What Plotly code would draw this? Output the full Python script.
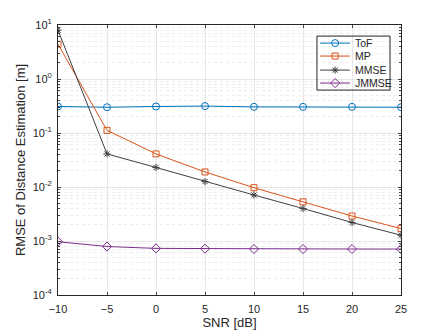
import plotly.graph_objects as go

snr = [-10, -5, 0, 5, 10, 15, 20, 25]
tof = [0.31, 0.30, 0.31, 0.315, 0.305, 0.305, 0.305, 0.30]
mp = [4.4, 0.112, 0.041, 0.019, 0.0097, 0.0053, 0.0029, 0.0017]
mmse = [8.0, 0.041, 0.023, 0.0126, 0.0071, 0.0040, 0.0022, 0.00128]
jmmse = [0.00097, 0.00079, 0.00073, 0.00072, 0.00071, 0.00071, 0.00071, 0.00071]

names = ["ToF", "MP", "MMSE", "JMMSE"]
series = [tof, mp, mmse, jmmse]
colors = ["#0072BD", "#D95319", "#404040", "#7E2F8E"]
symbols = ["circle-open", "square-open", "asterisk-open", "diamond-open"]
msizes = [7, 6, 6, 7]

ytick_vals = [1e-4, 1e-3, 1e-2, 1e-1, 1, 10]
ytick_text = ["10<sup>-4</sup>", "10<sup>-3</sup>", "10<sup>-2</sup>",
              "10<sup>-1</sup>", "10<sup>0</sup>", "10<sup>1</sup>"]

fig = go.Figure()
for name, ys, col, sym, ms in zip(names, series, colors, symbols, msizes):
    fig.add_trace(go.Scatter(x=snr, y=ys, name=name, mode="lines+markers",
                             line=dict(color=col, width=1),
                             marker=dict(symbol=sym, size=ms, color=col)))

# matlab-style legend box drawn by hand (plotly's legend rows are too tall)
lg_x0, lg_x1, lg_y0, lg_y1 = 0.755, 0.968, 0.759, 0.959
row_y = [0.933, 0.885, 0.833, 0.785]
fig.add_shape(type="rect", xref="paper", yref="paper", x0=lg_x0, x1=lg_x1, y0=lg_y0, y1=lg_y1,
              line=dict(width=0), fillcolor="white", layer="between")
fig.add_shape(type="rect", xref="paper", yref="paper", x0=lg_x0, x1=lg_x1, y0=lg_y0, y1=lg_y1,
              line=dict(color="#262626", width=1), fillcolor="rgba(0,0,0,0)", layer="above")
for name, col, sym, ms, ry in zip(names, colors, symbols, msizes, row_y):
    fig.add_shape(type="line", xref="paper", yref="paper", x0=0.764, x1=0.851, y0=ry, y1=ry,
                  line=dict(color=col, width=1), layer="between")
    fig.add_trace(go.Scatter(x=[0.808], y=[ry], xaxis="x2", yaxis="y2", mode="markers",
                             marker=dict(symbol=sym, size=ms, color=col),
                             showlegend=False, hoverinfo="skip"))
    fig.add_annotation(x=0.86, y=ry, xref="paper", yref="paper", text=name, showarrow=False,
                       xanchor="left", yanchor="middle", font=dict(size=10.5, color="#262626"))

# page body has an 8px margin, so the figure is shifted by 8px
fig.update_layout(
    width=435, height=324,
    margin=dict(l=50, r=42, t=17, b=37),
    paper_bgcolor="white", plot_bgcolor="white",
    font=dict(family="Liberation Sans, Arial", size=11, color="#262626"),
    showlegend=False,
    xaxis=dict(title=dict(text="SNR [dB]", standoff=2), range=[-10, 25],
               tickvals=snr, ticks="inside", ticklen=3, ticklabelstandoff=4,
               showline=True, linecolor="#262626", mirror="ticks",
               showgrid=True, gridcolor="#E6E6E6", zeroline=False,
               automargin=False),
    yaxis=dict(title=dict(text="RMSE of Distance Estimation [m]", standoff=4),
               type="log", range=[-4, 1],
               tickvals=ytick_vals, ticktext=ytick_text,
               ticks="inside", ticklen=3, ticklabelstandoff=3,
               showline=True, linecolor="#262626", mirror="ticks",
               showgrid=True, gridcolor="#E6E6E6", zeroline=False,
               automargin=False,
               minor=dict(ticks="inside", ticklen=2, dtick="D1",
                          showgrid=True, gridcolor="#EDEDED", griddash="dot")),
    xaxis2=dict(overlaying="x", range=[0, 1], visible=False, fixedrange=True),
    yaxis2=dict(overlaying="y", range=[0, 1], visible=False, fixedrange=True),
)

fig.write_html("out.html")
